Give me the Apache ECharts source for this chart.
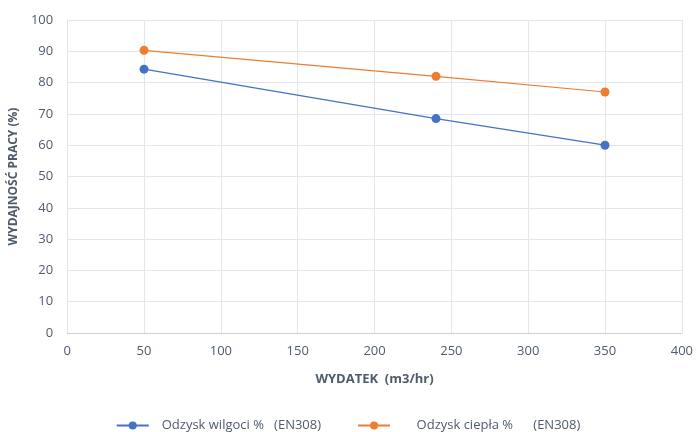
<!DOCTYPE html>
<html><head><meta charset="utf-8">
<script src="https://cdn.jsdelivr.net/npm/echarts@6/dist/echarts.min.js"></script>
<style>html,body{margin:0;padding:0;background:#fff}#c{width:696px;height:432px}</style>
</head><body><div id="c"></div>
<script>
const flowX = [50, 240, 350];
const moistureRecovery = [84.3, 68.5, 60];
const heatRecovery = [90.3, 82, 77];
const seriesNames = ['Odzysk wilgoci %   (EN308)', '    Odzysk ciepła %      (EN308)'];
const xAxisTitle = 'WYDATEK  (m3/hr)';
const yAxisTitle = 'WYDAJNOŚĆ PRACY (%)';

const font = '"Open Sans", "Noto Sans", sans-serif';
const textColor = '#4f5a6c';
const chart = echarts.init(document.getElementById('c'), null, {renderer: 'canvas'});
const toPairs = ys => flowX.map((x, i) => [x, ys[i]]);
chart.setOption({
  animation: false,
  grid: {left: 67, right: 14, top: 20, bottom: 99, containLabel: false},
  xAxis: {
    type: 'value', min: 0, max: 400, interval: 50,
    name: xAxisTitle, nameLocation: 'middle', nameGap: 40,
    nameTextStyle: {fontFamily: font, fontWeight: 'bold', fontSize: 13, color: textColor},
    axisLine: {show: true, lineStyle: {color: '#c9d0dc', width: 1}},
    axisTick: {show: false},
    axisLabel: {fontFamily: font, fontSize: 13, color: textColor, margin: 12},
    splitLine: {show: true, lineStyle: {color: '#e3e6ee', width: 1}}
  },
  yAxis: {
    type: 'value', min: 0, max: 100, interval: 10,
    name: yAxisTitle, nameLocation: 'middle', nameGap: 45,
    nameTextStyle: {fontFamily: font, fontWeight: 'bold', fontSize: 12, color: textColor},
    axisLine: {show: true, lineStyle: {color: '#dfe3eb', width: 1}},
    axisTick: {show: false},
    axisLabel: {fontFamily: font, fontSize: 13, color: textColor, margin: 14},
    splitLine: {show: true, lineStyle: {color: '#e3e6ee', width: 1}}
  },
  legend: {
    bottom: 0, padding: 0, left: 'center', itemGap: 36, itemWidth: 32, itemHeight: 10,
    textStyle: {fontFamily: font, fontSize: 13, color: textColor, padding: [0, 0, 0, 8]},
    data: seriesNames
  },
  series: [
    {name: seriesNames[0], type: 'line', data: toPairs(moistureRecovery),
     symbol: 'circle', symbolSize: 9, color: '#4472C4',
     lineStyle: {width: 1.2, color: '#4472C4'}, itemStyle: {color: '#4472C4'}},
    {name: seriesNames[1], type: 'line', data: toPairs(heatRecovery),
     symbol: 'circle', symbolSize: 9, color: '#ED7D31',
     lineStyle: {width: 1.2, color: '#ED7D31'}, itemStyle: {color: '#ED7D31'}}
  ]
});
</script></body></html>
